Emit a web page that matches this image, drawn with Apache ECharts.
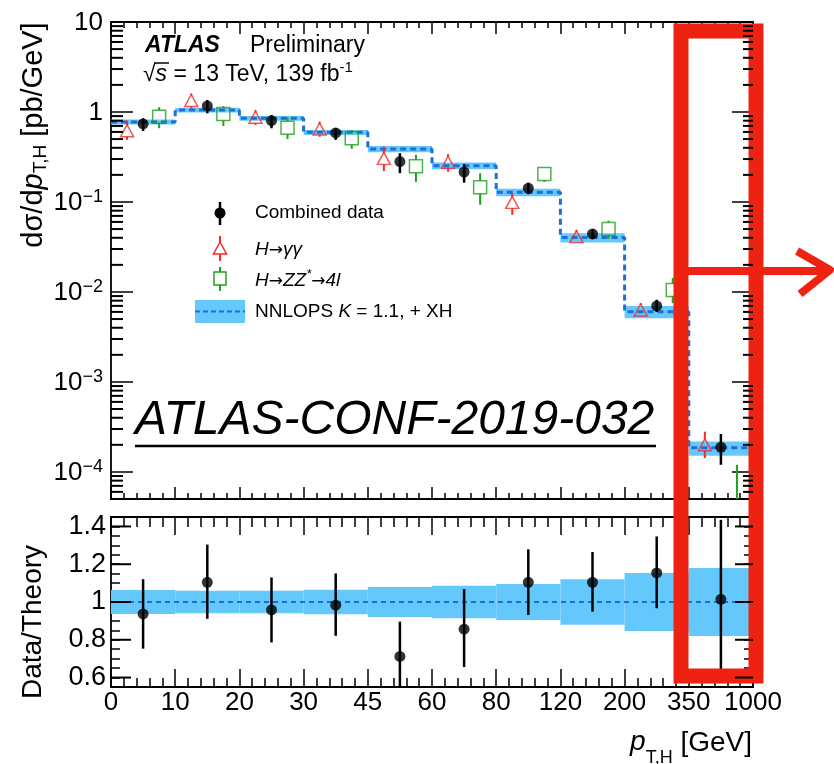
<!DOCTYPE html>
<html><head><meta charset="utf-8">
<script src="https://cdn.jsdelivr.net/npm/echarts@6/dist/echarts.min.js"></script>
<style>html,body{margin:0;padding:0;background:#fff}#c{width:834px;height:764px}</style>
</head><body><div id="c"></div>
<script>
// ---------------- data ----------------
const binEdgeLabels = ['0','10','20','30','45','60','80','120','200','350','1000'];
const theoryXS     = [0.774, 1.05, 0.85, 0.594, 0.388, 0.253, 0.128, 0.0402, 0.00604, 1.85e-4];
const theoryRelUnc = [0.063, 0.060, 0.060, 0.065, 0.079, 0.086, 0.095, 0.120, 0.154, 0.180];
const combinedXS = [0.736, 1.166, 0.80, 0.585, 0.281, 0.215, 0.142, 0.0441, 0.00699, 1.88e-4];
const combinedLo = [0.615, 0.966, 0.659, 0.49, 0.209, 0.164, 0.122, 0.0388, 0.0060, 1.20e-4];
const combinedHi = [0.851, 1.36, 0.926, 0.66, 0.348, 0.264, 0.164, 0.0497, 0.0082, 2.64e-4];
const gammaXS = [0.62, 1.34, 0.873, 0.647, 0.305, 0.276, 0.099, 0.0412, 0.0063, 2.0e-4];
const gammaLo = [0.49, 1.10, 0.718, 0.53, 0.221, 0.217, 0.072, 0.035, 0.0054, 1.42e-4];
const gammaHi = [0.80, 1.60, 1.05, 0.78, 0.412, 0.34, 0.126, 0.0487, 0.0075, 2.8e-4];
const zzXS = [0.887, 0.95, 0.67, 0.51, 0.25, 0.146, 0.205, 0.050, 0.0105, 3.0e-5];
const zzLo = [0.66, 0.70, 0.50, 0.39, 0.167, 0.093, 0.167, 0.039, 0.0075, 1.0e-5];
const zzHi = [1.13, 1.16, 0.87, 0.63, 0.334, 0.209, 0.24, 0.062, 0.0143, 1.2e-4];
const ratioVal = [0.937, 1.104, 0.958, 0.983, 0.712, 0.856, 1.104, 1.104, 1.154, 1.014];
const ratioLo  = [0.753, 0.911, 0.786, 0.821, 0.52, 0.656, 0.932, 0.949, 0.967, 0.642];
const ratioHi  = [1.121, 1.304, 1.13, 1.151, 0.896, 1.068, 1.279, 1.265, 1.347, 1.435];
const ratioMajorTicks = [0.6, 0.8, 1.0, 1.2, 1.4];
const yMin = 5e-5, yMax = 10;

// ---------------- helpers ----------------
const FONT = '"Liberation Sans", Arial, Helvetica, sans-serif';
const BLUE_BAND = '#64c8fc', BLUE_LINE = '#1d6fd8', RED = '#f42a2a', GREEN = '#1fa01f';
const nBins = theoryXS.length;

const logMinorTicks = [];
for (let e = -5; e <= 0; e++) for (let k = 2; k <= 9; k++) {
  const v = k * Math.pow(10, e);
  if (v > yMin && v < yMax) logMinorTicks.push(v);
}

function errRender(color, lw, gapUp, gapDown) {
  return function (params, api) {
    const x = api.value(0), v = api.value(1), lo = api.value(2), hi = api.value(3);
    const c = api.coord([x, v]), pLo = api.coord([x, lo]), pHi = api.coord([x, hi]);
    const cs = params.coordSys, top = cs.y, bot = cs.y + cs.height;
    const cl = y => Math.max(top, Math.min(bot, y));
    const ch = [];
    const y1 = cl(pHi[1]), y2 = cl(c[1] - gapUp);
    if (y2 > y1) ch.push({type: 'line', shape: {x1: c[0], y1: y1, x2: c[0], y2: y2}, style: {stroke: color, lineWidth: lw}});
    const y3 = cl(c[1] + gapDown), y4 = cl(pLo[1]);
    if (y4 > y3) ch.push({type: 'line', shape: {x1: c[0], y1: y3, x2: c[0], y2: y4}, style: {stroke: color, lineWidth: lw}});
    return {type: 'group', children: ch};
  };
}
function bandRender(params, api) {
  const i = api.value(0), lo = api.value(2), hi = api.value(3);
  const p1 = api.coord([i, hi]), p2 = api.coord([i + 1, lo]);
  return {type: 'rect', shape: {x: p1[0], y: p1[1], width: p2[0] - p1[0], height: p2[1] - p1[1]}, style: {fill: BLUE_BAND}};
}

const stepData = theoryXS.map((t, i) => [i, t]).concat([[nBins, theoryXS[nBins - 1]]]);
const bandTop = theoryXS.map((t, i) => [i, t, t * (1 - theoryRelUnc[i]), t * (1 + theoryRelUnc[i])]);
const bandRatio = theoryRelUnc.map((u, i) => [i, 1, 1 - u, 1 + u]);
const combRows = combinedXS.map((v, i) => [i + 0.5, v, combinedLo[i], combinedHi[i]]);
const gamRows = gammaXS.map((v, i) => [i + 0.25, v, gammaLo[i], gammaHi[i]]);
const zzRows = zzXS.map((v, i) => [i + 0.75, v, zzLo[i], zzHi[i]]);
const ratioRows = ratioVal.map((v, i) => [i + 0.5, v, ratioLo[i], ratioHi[i]]);

const axLine = {show: true, onZero: false, lineStyle: {color: '#000', width: 1.8}};
const tickStyle = {color: '#000', width: 1.5};
function xAx(grid, pos, major, minor, labels) {
  return {
    gridIndex: grid, type: 'value', min: 0, max: 10, interval: 1, position: pos,
    axisLine: axLine, splitLine: {show: false},
    axisTick: {show: true, inside: true, length: major, lineStyle: tickStyle},
    minorTick: {show: true, splitNumber: 5, length: minor, lineStyle: tickStyle},
    axisLabel: labels ? {show: true, margin: 3, fontSize: 26, fontFamily: FONT, color: '#000',
      showMinLabel: true, showMaxLabel: true, formatter: v => binEdgeLabels[Math.round(v)]} : {show: false}
  };
}
const supRich = {
  b: {fontSize: 26, fontFamily: FONT, color: '#000', lineHeight: 28, verticalAlign: 'bottom'},
  s: {fontSize: 18, fontFamily: FONT, color: '#000', lineHeight: 18, padding: [0, 0, 14, 0], verticalAlign: 'top'}
};
function logFmt(v) {
  const l = Math.log10(v), e = Math.round(l);
  if (Math.abs(l - e) > 0.01) return '';
  if (e === 0) return '{b|1}';
  if (e === 1) return '{b|10}';
  return '{b|10}{s|\u2212' + (-e) + '}';
}
function ratioFmt(v) {
  const r = Math.round(v * 5);
  if (Math.abs(v * 5 - r) > 1e-6) return '';
  const val = r / 5;
  return val === 1 ? '1' : val.toFixed(1);
}

const mctx = document.createElement('canvas').getContext('2d');
function tw(font, s) { mctx.font = font; return mctx.measureText(s).width; }

const yt = [
  {t: 'd\u03C3/d', f: '29px ' + FONT, dx: 0},
  {t: 'p', f: 'italic 29px ' + FONT, dx: 0},
  {t: 'T,H', f: '19px ' + FONT, dx: 7},
  {t: ' [pb/GeV]', f: '29px ' + FONT, dx: 0}
];
const ytW = yt.reduce((s, p) => s + tw(p.f, p.t), 0);
let ytPos = 135 + ytW / 2;
const yTitleEls = yt.map(p => {
  const el = {type: 'text', x: 34 + p.dx, y: ytPos, rotation: Math.PI / 2,
    style: {text: p.t, font: p.f, fill: '#000', align: 'left', verticalAlign: 'middle'}};
  ytPos -= tw(p.f, p.t);
  return el;
});
const xt = [
  {t: 'p', f: 'italic 28px ' + FONT, dy: -1},
  {t: 'T,H', f: '18px ' + FONT, dy: 15},
  {t: ' [GeV]', f: '28px ' + FONT, dy: 0}
];
const xtW = xt.reduce((s, p) => s + tw(p.f, p.t), 0);
let xtPos = 752 - xtW;
const xTitleEls = xt.map(p => {
  const el = {type: 'text', x: xtPos, y: 743 + p.dy, style: {text: p.t, font: p.f, fill: '#000', align: 'left', verticalAlign: 'middle'}};
  xtPos += tw(p.f, p.t);
  return el;
});

const ARROW_FONT = '"DejaVu Sans", sans-serif';
const legRich = {
  i: {fontSize: 19, fontFamily: FONT, fontStyle: 'italic', fill: '#000', lineHeight: 22, verticalAlign: 'bottom'},
  ar: {fontSize: 17, fontFamily: ARROW_FONT, fill: '#000', lineHeight: 22, verticalAlign: 'bottom'},
  s: {fontSize: 13, fontFamily: FONT, fontStyle: 'italic', fill: '#000', lineHeight: 13, padding: [0, 0, 10, 0], verticalAlign: 'top'}
};

const baseGraphic = [
  {type: 'text', x: 145, y: 46, style: {text: 'ATLAS', font: 'italic bold 23px ' + FONT, fill: '#000', verticalAlign: 'middle'}},
  {type: 'text', x: 250, y: 46, style: {text: 'Preliminary', font: '23px ' + FONT, fill: '#000', verticalAlign: 'middle'}},
  {type: 'text', x: 143, y: 73, style: {text: '{n|\u221A}{i|s}{n| = 13 TeV, 139 fb}{s|-1}', verticalAlign: 'middle',
    rich: {n: {fontSize: 23, fontFamily: FONT, fill: '#000', lineHeight: 26, verticalAlign: 'bottom'},
           i: {fontSize: 23, fontFamily: FONT, fontStyle: 'italic', fill: '#000', lineHeight: 26, verticalAlign: 'bottom'},
           s: {fontSize: 15, fontFamily: FONT, fill: '#000', lineHeight: 15, padding: [0, 0, 12, 0], verticalAlign: 'top'}}}},
  {type: 'line', shape: {x1: 154, y1: 63, x2: 169, y2: 63}, style: {stroke: '#000', lineWidth: 1.5}},
  {type: 'line', shape: {x1: 220, y1: 202, x2: 220, y2: 225}, style: {stroke: '#000', lineWidth: 2.5}},
  {type: 'circle', shape: {cx: 220, cy: 213, r: 5.5}, style: {fill: '#000'}},
  {type: 'text', x: 255, y: 213, style: {text: 'Combined data', font: '19px ' + FONT, fill: '#000', verticalAlign: 'middle'}},
  {type: 'line', shape: {x1: 220, y1: 236, x2: 220, y2: 242}, style: {stroke: RED, lineWidth: 2}},
  {type: 'line', shape: {x1: 220, y1: 254, x2: 220, y2: 261}, style: {stroke: RED, lineWidth: 2}},
  {type: 'polygon', shape: {points: [[220, 242], [213.5, 254], [226.5, 254]]}, style: {fill: 'none', stroke: RED, lineWidth: 1.5}},
  {type: 'text', x: 255, y: 248, style: {text: '{i|H}{ar|\u2192}{i|\u03B3\u03B3}', verticalAlign: 'middle', rich: legRich}},
  {type: 'line', shape: {x1: 220, y1: 267, x2: 220, y2: 272}, style: {stroke: GREEN, lineWidth: 2}},
  {type: 'line', shape: {x1: 220, y1: 285, x2: 220, y2: 291}, style: {stroke: GREEN, lineWidth: 2}},
  {type: 'rect', shape: {x: 214, y: 272, width: 12, height: 13}, style: {fill: 'none', stroke: GREEN, lineWidth: 1.5}},
  {type: 'text', x: 255, y: 279, style: {text: '{i|H}{ar|\u2192}{i|ZZ}{s|*}{ar|\u2192}{i|4l}', verticalAlign: 'middle', rich: legRich}},
  {type: 'rect', shape: {x: 195, y: 300, width: 50, height: 23}, style: {fill: BLUE_BAND}},
  {type: 'line', shape: {x1: 195, y1: 311.5, x2: 245, y2: 311.5}, style: {stroke: BLUE_LINE, lineWidth: 2, lineDash: [5, 3]}},
  {type: 'text', x: 255, y: 312, style: {text: '{n|NNLOPS }{i|K}{n| = 1.1, + XH}', verticalAlign: 'middle',
    rich: {n: {fontSize: 19, fontFamily: FONT, fill: '#000'}, i: {fontSize: 19, fontFamily: FONT, fontStyle: 'italic', fill: '#000'}}}},
  {type: 'text', x: 135, y: 421, style: {text: 'ATLAS-CONF-2019-032', font: 'italic 48px ' + FONT, fill: '#000', verticalAlign: 'middle'}},
  {type: 'line', shape: {x1: 135, y1: 446, x2: 656, y2: 446}, style: {stroke: '#000', lineWidth: 2.5}},
  ...yTitleEls,
  {type: 'text', x: 33, y: 622, rotation: Math.PI / 2, style: {text: 'Data/Theory', font: '28px ' + FONT, fill: '#000', align: 'center', verticalAlign: 'middle'}},
  ...xTitleEls,
  {type: 'rect', z: 100, shape: {x: 681, y: 31, width: 75, height: 645}, style: {fill: 'none', stroke: '#ee2211', lineWidth: 15}},
  {type: 'polyline', z: 100, shape: {points: [[688, 271], [828, 271]]}, style: {stroke: '#ee2211', lineWidth: 8}},
  {type: 'polyline', z: 100, shape: {points: [[797, 251], [830, 270], [800, 294]]}, style: {stroke: '#ee2211', lineWidth: 8, fill: 'none', lineJoin: 'round'}}
];

const option = {
  animation: false,
  backgroundColor: '#fff',
  grid: [
    {left: 111, top: 22, width: 642, height: 477},
    {left: 111, top: 517, width: 642, height: 170}
  ],
  xAxis: [
    xAx(0, 'bottom', 12, 6, false),
    xAx(0, 'top', 12, 6, false),
    xAx(1, 'bottom', 18, 9, true),
    xAx(1, 'top', 18, 10, false)
  ],
  yAxis: [
    {gridIndex: 0, type: 'log', min: yMin, max: yMax, position: 'left', axisLine: axLine, splitLine: {show: false},
     axisTick: {show: true, inside: true, length: 22, lineStyle: tickStyle}, minorTick: {show: false},
     axisLabel: {show: true, margin: 8, formatter: logFmt, rich: supRich, showMinLabel: false}},
    {gridIndex: 0, type: 'log', min: yMin, max: yMax, position: 'right', axisLine: axLine, splitLine: {show: false},
     axisTick: {show: true, inside: true, length: 21, lineStyle: tickStyle}, minorTick: {show: false}, axisLabel: {show: false}},
    {gridIndex: 1, type: 'value', min: 0.55, max: 1.45, interval: 0.05, position: 'left', axisLine: axLine, splitLine: {show: false},
     axisTick: {show: true, inside: true, length: 9, lineStyle: tickStyle},
     axisLabel: {show: true, margin: 5, fontSize: 27, fontFamily: FONT, color: '#000', formatter: ratioFmt, showMinLabel: false, showMaxLabel: false}},
    {gridIndex: 1, type: 'value', min: 0.55, max: 1.45, interval: 0.05, position: 'right', axisLine: axLine, splitLine: {show: false},
     axisTick: {show: true, inside: true, length: 9, lineStyle: tickStyle}, axisLabel: {show: false}}
  ],
  series: [
    {type: 'custom', name: 'band', xAxisIndex: 0, yAxisIndex: 0, renderItem: bandRender, data: bandTop, encode: {x: 0, y: 1}, z: 2},
    {type: 'line', name: 'NNLOPS', xAxisIndex: 0, yAxisIndex: 0, step: 'end', data: stepData, symbol: 'none',
     lineStyle: {color: BLUE_LINE, width: 3, type: [6, 4]}, z: 3},
    {type: 'custom', xAxisIndex: 0, yAxisIndex: 0, renderItem: errRender('#000', 2.5, 0, 0), data: combRows, encode: {x: 0, y: 1}, z: 4},
    {type: 'custom', xAxisIndex: 0, yAxisIndex: 0, renderItem: errRender(RED, 2, 5, 6), data: gamRows, encode: {x: 0, y: 1}, z: 4},
    {type: 'custom', xAxisIndex: 0, yAxisIndex: 0, renderItem: errRender(GREEN, 2, 6.5, 6.5), data: zzRows, encode: {x: 0, y: 1}, z: 4},
    {type: 'scatter', name: 'Combined data', xAxisIndex: 0, yAxisIndex: 0, data: combRows.map(r => [r[0], r[1]]), symbol: 'circle', symbolSize: 11,
     itemStyle: {color: '#000'}, clip: true, z: 5},
    {type: 'scatter', name: 'Hgg', xAxisIndex: 0, yAxisIndex: 0, data: gamRows.map(r => [r[0], r[1]]), symbol: 'triangle', symbolSize: [13, 12],
     itemStyle: {color: 'rgba(0,0,0,0)', borderColor: RED, borderWidth: 1.5}, clip: true, z: 5},
    {type: 'scatter', name: 'HZZ', xAxisIndex: 0, yAxisIndex: 0, data: zzRows.map(r => [r[0], r[1]]), symbol: 'rect', symbolSize: 13,
     itemStyle: {color: 'rgba(0,0,0,0)', borderColor: GREEN, borderWidth: 1.5}, clip: true, z: 5},
    {type: 'custom', xAxisIndex: 2, yAxisIndex: 2, renderItem: bandRender, data: bandRatio, encode: {x: 0, y: 1}, z: 2},
    {type: 'line', xAxisIndex: 2, yAxisIndex: 2, data: [[0, 1], [10, 1]], symbol: 'none',
     lineStyle: {color: BLUE_LINE, width: 2, type: [5, 4]}, z: 3},
    {type: 'custom', xAxisIndex: 2, yAxisIndex: 2, renderItem: errRender('#000', 2.5, 0, 0), data: ratioRows, encode: {x: 0, y: 1}, z: 4},
    {type: 'scatter', xAxisIndex: 2, yAxisIndex: 2, data: ratioRows.map(r => [r[0], r[1]]), symbol: 'circle', symbolSize: 11,
     itemStyle: {color: '#000'}, clip: true, z: 5}
  ]
};
const chart = echarts.init(document.getElementById('c'), null, {renderer: 'canvas'});
chart.setOption(option);

// extra frame ticks (log minor ticks, ratio major ticks) placed through the axes' own scales
const tickEls = [];
function addTicks(finder, vals, lenL, lenR) {
  vals.forEach(v => {
    const pl = chart.convertToPixel(finder, [0, v]);
    const pr = chart.convertToPixel(finder, [10, v]);
    if (!pl || !pr) return;
    tickEls.push({type: 'line', z: 50, zlevel: 1, shape: {x1: pl[0], y1: pl[1], x2: pl[0] + lenL, y2: pl[1]}, style: {stroke: '#000', lineWidth: 2}});
    tickEls.push({type: 'line', z: 50, zlevel: 1, shape: {x1: pr[0] - lenR, y1: pr[1], x2: pr[0], y2: pr[1]}, style: {stroke: '#000', lineWidth: 2}});
  });
}
addTicks({xAxisIndex: 0, yAxisIndex: 0}, logMinorTicks, 12, 10);
addTicks({xAxisIndex: 2, yAxisIndex: 2}, ratioMajorTicks, 20, 18);
chart.setOption({graphic: baseGraphic.concat(tickEls)});
</script></body></html>
